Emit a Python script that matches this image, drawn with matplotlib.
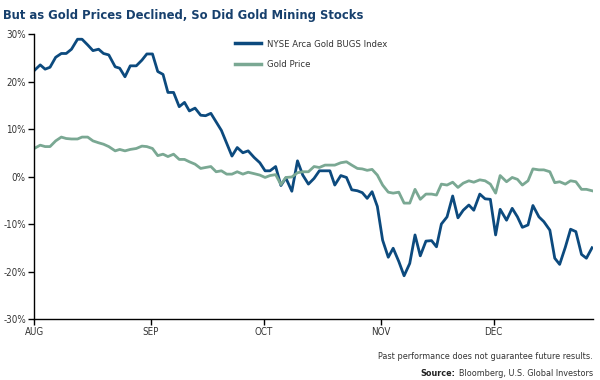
import matplotlib
matplotlib.use("Agg")
import matplotlib.pyplot as plt
from matplotlib.ticker import FuncFormatter

# days since Aug 1
days = [0, 1.6, 2.9, 4.2, 5.7, 7.2, 8.5, 9.9, 11.5, 12.7, 14.2, 15.6, 17.1, 18.4, 19.8,
        21.5, 22.7, 24.1, 25.5, 27.1, 28.6, 29.9, 31.4, 32.8, 34.2, 35.5, 37.0, 38.5,
        39.9, 41.2, 42.7, 44.2, 45.5, 46.9, 48.3, 49.7, 51.1, 52.5, 53.9, 55.4, 56.8,
        58.4, 59.9, 61.3, 62.6, 64.1, 65.5, 66.8, 68.4, 69.9, 71.3, 72.8, 74.3, 75.7,
        77.2, 78.5, 79.8, 81.4, 82.9, 84.3, 85.8, 87.1, 88.4, 89.7, 91.1, 92.5, 94.0,
        95.3, 96.8, 98.2, 99.7, 101.1, 102.5, 104.0, 105.5, 106.8, 108.1, 109.6, 111.1,
        112.5, 113.9, 115.4, 116.7, 118.3, 119.7, 121.1, 122.5, 123.7, 125.4, 126.9,
        128.3, 129.6, 131.1, 132.4, 134.0, 135.3, 136.9, 138.2, 139.5, 141.0, 142.4,
        143.8, 145.3, 146.6, 148.1]

bugs = [22.3, 23.5, 22.6, 23.0, 25.1, 25.9, 25.9, 26.8, 28.9, 28.9, 27.7, 26.5, 26.8, 25.9,
        25.6, 23.1, 22.8, 21.0, 23.3, 23.3, 24.5, 25.8, 25.8, 22.1, 21.5, 17.7, 17.7, 14.7,
        15.6, 13.8, 14.4, 12.9, 12.8, 13.3, 11.5, 9.7, 7.0, 4.3, 6.1, 5.0, 5.4, 4.0, 2.9,
        1.2, 1.2, 2.1, -1.9, -0.3, -3.1, 3.3, 0.3, -1.6, -0.4, 1.2, 1.2, 1.2, -1.8, 0.2,
        -0.2, -2.8, -3.0, -3.4, -4.6, -3.2, -6.3, -13.4, -17.0, -15.1, -17.9, -20.9, -18.3,
        -12.3, -16.7, -13.6, -13.5, -14.8, -10.0, -8.5, -4.1, -8.7, -7.1, -6.0, -7.1, -3.7,
        -4.7, -4.8, -12.3, -6.9, -9.2, -6.7, -8.5, -10.7, -10.2, -6.1, -8.5, -9.5, -11.3,
        -17.2, -18.5, -14.9, -11.1, -11.6, -16.4, -17.2, -15.0]

gold = [5.9, 6.6, 6.3, 6.3, 7.5, 8.3, 8.0, 7.9, 7.9, 8.3, 8.3, 7.5, 7.1, 6.8, 6.3, 5.4, 5.7,
        5.4, 5.7, 5.9, 6.4, 6.3, 5.9, 4.4, 4.7, 4.2, 4.7, 3.6, 3.6, 3.1, 2.6, 1.7, 1.9, 2.1,
        1.0, 1.2, 0.5, 0.5, 1.0, 0.5, 0.9, 0.6, 0.3, -0.2, 0.2, 0.4, -1.7, -0.2, -0.1, 0.8,
        1.0, 1.0, 2.1, 1.9, 2.4, 2.4, 2.4, 2.9, 3.1, 2.4, 1.7, 1.6, 1.3, 1.5, 0.3, -1.8,
        -3.3, -3.5, -3.3, -5.6, -5.6, -2.7, -4.8, -3.7, -3.7, -3.9, -1.6, -1.8, -1.2, -2.3,
        -1.4, -0.9, -1.2, -0.7, -0.9, -1.6, -3.5, 0.2, -1.1, -0.2, -0.6, -1.8, -0.9, 1.6,
        1.4, 1.4, 1.0, -1.3, -1.1, -1.6, -0.9, -1.1, -2.7, -2.7, -3.0]

month_days = [0, 31, 61, 92, 122]
month_labels = ["AUG", "SEP", "OCT", "NOV", "DEC"]

BLUE = "#0c4a7e"
GREEN = "#7aa893"
TXT = "#333333"
FONT = dict(family="DejaVu Sans", stretch="condensed")

fig = plt.figure(figsize=(6, 3.8), dpi=100)
ax = fig.add_axes([0.057, 0.1605, 0.931, 0.75])

ax.plot(days, bugs, color=BLUE, lw=2.0, label="NYSE Arca Gold BUGS Index")
ax.plot(days, gold, color=GREEN, lw=2.0, label="Gold Price")

ax.set_xlim(0, 148.3)
ax.set_ylim(-30, 30)
ax.set_yticks([-30, -20, -10, 0, 10, 20, 30])
ax.yaxis.set_major_formatter(FuncFormatter(lambda v, p: "%d%%" % v))
ax.set_xticks(month_days)
ax.set_xticklabels(month_labels)

for s in ["top", "right"]:
    ax.spines[s].set_visible(False)
for s in ["left", "bottom"]:
    ax.spines[s].set_linewidth(1.0)
    ax.spines[s].set_color("black")

ax.tick_params(axis="both", length=4, width=1.0, color="black", labelsize=7, labelcolor=TXT, pad=2)
for lab in ax.get_xticklabels() + ax.get_yticklabels():
    lab.set_fontstretch("condensed")

leg = ax.legend(loc="upper left", bbox_to_anchor=(0.345, 1.01), frameon=False,
                handlelength=2.7, handletextpad=0.6, labelspacing=1.25,
                prop={"family": "DejaVu Sans", "stretch": "condensed", "size": 6.8})
for t in leg.get_texts():
    t.set_color(TXT)
for h in leg.get_lines():
    h.set_linewidth(2.5)

fig.text(0.005, 0.975, "But as Gold Prices Declined, So Did Gold Mining Stocks", ha="left", va="top",
         fontsize=9.3, fontweight="bold", color="#17406d", **FONT)
fig.text(0.988, 0.061, "Past performance does not guarantee future results.", ha="right", va="center",
         fontsize=6.5, color=TXT, **FONT)
src = fig.text(0.988, 0.018, "Bloomberg, U.S. Global Investors", ha="right", va="center",
               fontsize=6.5, color=TXT, **FONT)

# put the bold "Source:" just left of the rest of the line
fig.canvas.draw()
bb = src.get_window_extent().transformed(fig.transFigure.inverted())
fig.text(bb.x0 - 0.005, 0.018, "Source:", ha="right", va="center",
         fontsize=6.5, color="#222222", fontweight="bold", **FONT)

fig.savefig("out.png", dpi=100)
